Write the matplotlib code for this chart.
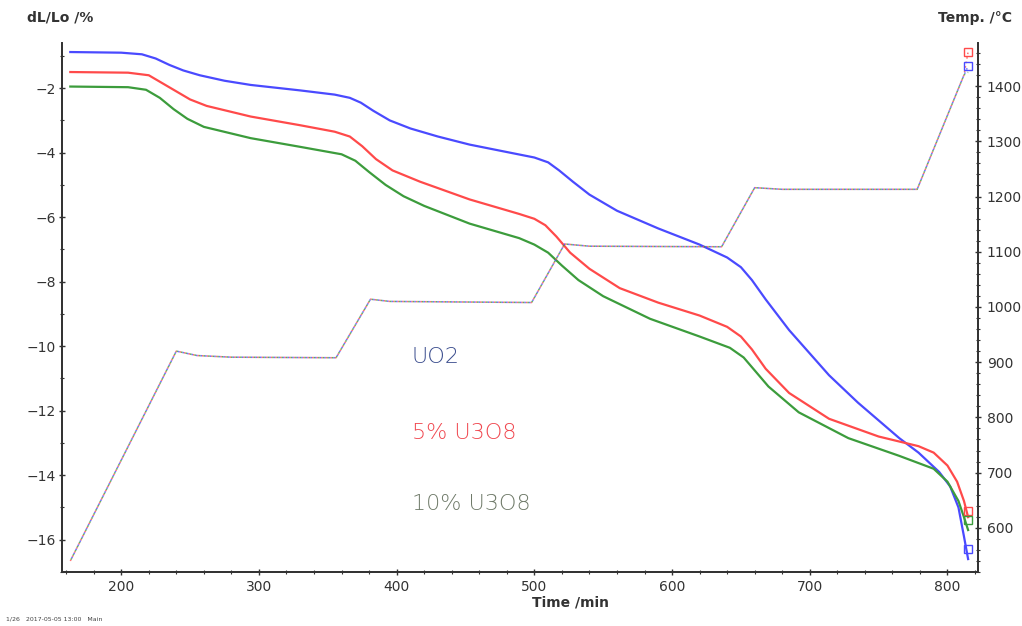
import matplotlib.pyplot as plt
from matplotlib.ticker import MultipleLocator

# time axis (min) and dilatation dL/Lo (%) for the three samples
t_uo2 = [163, 200, 215, 225, 235, 245, 257, 275, 294, 330, 355, 366, 374, 383, 395, 410,
         430, 453, 480, 500, 510, 518, 528, 540, 560, 590, 620, 640, 650, 658, 668, 685,
         714, 735, 750, 765, 779, 794, 802, 808, 812, 815]
dl_uo2 = [-0.88, -0.9, -0.95, -1.08, -1.28, -1.45, -1.6, -1.77, -1.9, -2.07, -2.2, -2.3,
          -2.45, -2.7, -3.0, -3.25, -3.5, -3.75, -3.98, -4.15, -4.3, -4.55, -4.9, -5.3,
          -5.8, -6.35, -6.85, -7.25, -7.55, -7.95, -8.55, -9.5, -10.9, -11.75, -12.3,
          -12.85, -13.3, -13.9, -14.35, -15.0, -15.9, -16.6]

t_5 = [163, 205, 220, 230, 240, 250, 262, 294, 330, 355, 366, 375, 385, 397, 417, 453,
       489, 500, 508, 516, 526, 540, 562, 590, 620, 640, 650, 658, 668, 685, 714, 750,
       779, 790, 800, 807, 812, 815]
dl_5 = [-1.5, -1.52, -1.6, -1.85, -2.1, -2.35, -2.55, -2.88, -3.15, -3.35, -3.5, -3.8,
        -4.2, -4.55, -4.9, -5.45, -5.9, -6.05, -6.25, -6.6, -7.1, -7.6, -8.2, -8.65, -9.05,
        -9.4, -9.7, -10.1, -10.7, -11.45, -12.25, -12.8, -13.1, -13.3, -13.7, -14.2, -14.8,
        -15.3]

t_10 = [163, 205, 218, 228, 238, 248, 260, 294, 330, 360, 370, 380, 392, 405, 420, 453,
        489, 500, 510, 520, 532, 550, 584, 620, 642, 652, 660, 670, 692, 728, 765, 790,
        800, 808, 812, 815]
dl_10 = [-1.95, -1.97, -2.05, -2.3, -2.65, -2.95, -3.2, -3.55, -3.82, -4.05, -4.25, -4.6,
         -5.0, -5.35, -5.65, -6.2, -6.65, -6.85, -7.1, -7.5, -7.95, -8.45, -9.15, -9.7,
         -10.05, -10.35, -10.75, -11.25, -12.05, -12.85, -13.4, -13.8, -14.2, -14.8, -15.3,
         -15.7]

# furnace temperature program (°C)
t_temp = [163, 240, 255, 280, 356, 381, 395, 498, 522, 540, 636, 660, 680, 778, 812, 815]
temp_red = [540, 920, 912, 909, 908, 1014, 1010, 1008, 1114, 1110, 1109, 1216, 1213, 1213, 1420, 1462]
temp_blue = [540, 920, 912, 909, 908, 1014, 1010, 1008, 1114, 1110, 1109, 1216, 1213, 1213, 1420, 1436]
temp_green = [540, 920, 912, 909, 908, 1014, 1010, 1008, 1114, 1110, 1109, 1216, 1213, 1213, 1420, 1425]

labels = ['UO2', '5% U3O8', '10% U3O8']
label_colors = ['#3d4f8f', '#f0474f', '#6f7a69']

c_blue = '#4a4aff'
c_red = '#ff4a4a'
c_green = '#3c9c3c'

fig = plt.figure(figsize=(10.22, 6.26), dpi=100)
ax = fig.add_axes([0.0607, 0.0863, 0.896, 0.845])
ax2 = ax.twinx()

# temperature curves, dotted and lying on top of each other
ax2.plot(t_temp, temp_red, color=c_red, lw=1.1, linestyle=(0, (1, 2)), alpha=0.8)
ax2.plot(t_temp, temp_blue, color=c_blue, lw=1.1, linestyle=(1, (1, 2)), alpha=0.8)
ax2.plot(t_temp, temp_green, color=c_green, lw=1.1, linestyle=(2, (1, 2)), alpha=0.8)
ax2.plot(t_temp[-1], temp_red[-1], marker='s', ms=6, mfc='none', mec=c_red, mew=1)
ax2.plot(t_temp[-1], temp_blue[-1], marker='s', ms=6, mfc='none', mec=c_blue, mew=1)

ax.plot(t_uo2, dl_uo2, color=c_blue, lw=1.6)
ax.plot(t_5, dl_5, color=c_red, lw=1.6)
ax.plot(t_10, dl_10, color=c_green, lw=1.6)
# end-of-curve markers
ax.plot(t_5[-1], dl_5[-1] + 0.2, marker='s', ms=6, mfc='none', mec=c_red, mew=1)
ax.plot(t_10[-1], dl_10[-1] + 0.3, marker='s', ms=6, mfc='none', mec=c_green, mew=1)
ax.plot(t_uo2[-1], dl_uo2[-1] + 0.3, marker='s', ms=6, mfc='none', mec=c_blue, mew=1)

ax.set_xlim(157, 822)
ax.set_ylim(-17.0, -0.6)
ax2.set_ylim(520, 1478)

ax.xaxis.set_major_locator(MultipleLocator(100))
ax.xaxis.set_minor_locator(MultipleLocator(20))
ax.yaxis.set_major_locator(MultipleLocator(2))
ax.yaxis.set_minor_locator(MultipleLocator(1))
ax2.yaxis.set_major_locator(MultipleLocator(100))
ax2.yaxis.set_minor_locator(MultipleLocator(20))

for a in (ax, ax2):
    a.spines['top'].set_visible(False)
    for s in ('left', 'right', 'bottom'):
        a.spines[s].set_linewidth(1.3)
        a.spines[s].set_color('#333333')
    a.tick_params(which='major', direction='inout', length=5, width=1, labelsize=10, colors='#333333')
    a.tick_params(which='minor', direction='inout', length=3, width=0.8, colors='#333333')
ax.tick_params(axis='y', pad=2)
ax2.tick_params(axis='y', pad=4)

ax.set_xlabel('Time /min', fontsize=10, fontweight='bold', color='#333333', labelpad=0)
ax.xaxis.set_label_coords(0.555, -0.045)
fig.text(0.026, 0.965, 'dL/Lo /%', fontsize=10, fontweight='bold', color='#333333')
fig.text(0.99, 0.965, 'Temp. /°C', fontsize=10, fontweight='bold', color='#333333', ha='right')
fig.text(0.006, 0.008, '1/26   2017-05-05 13:00   Main', fontsize=4.5, color='#444444')

for lab, col, y in zip(labels, label_colors, [-10.35, -12.7, -14.9]):
    ax.text(411, y, lab, color=col, fontsize=16, va='center', ha='left',
            family='DejaVu Sans', fontweight='light')

fig.savefig('out.png', dpi=100)
